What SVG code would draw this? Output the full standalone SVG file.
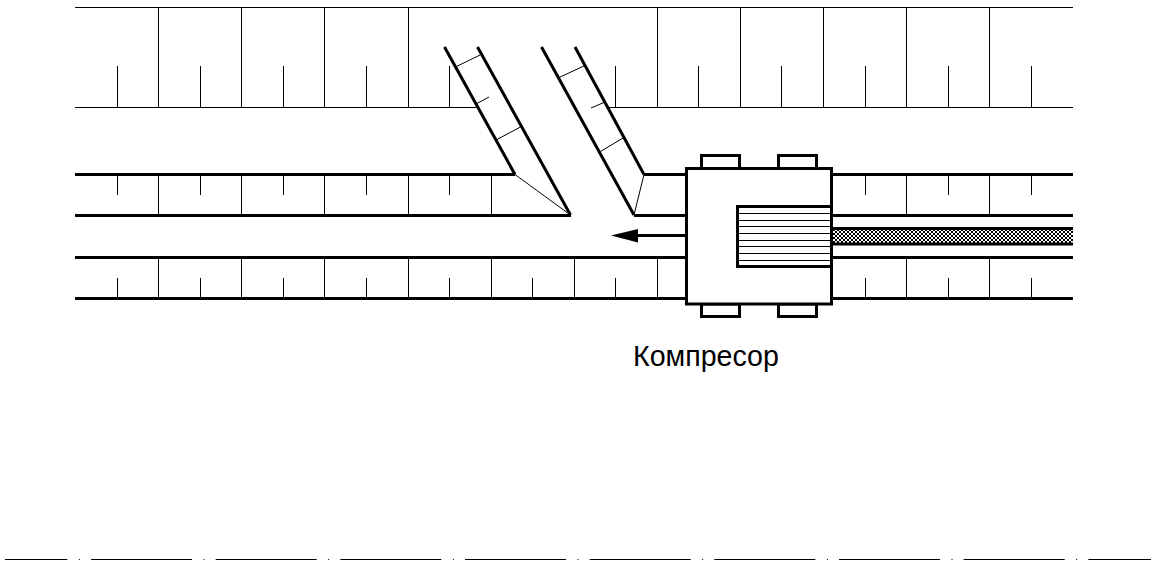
<svg xmlns="http://www.w3.org/2000/svg" width="1168" height="575" viewBox="0 0 1168 575">
<style>
.thick{stroke:#000;stroke-width:3;fill:none;stroke-linecap:butt}
.mid{stroke:#000;stroke-width:1;fill:none}
.thin{stroke:#000;stroke-width:1;fill:none}
.box{stroke:#000;stroke-width:3;fill:#fff}
text{font-family:"Liberation Sans",Arial,sans-serif;font-size:28.600px;fill:#000}
</style>
<defs>
<pattern id="hatch" width="4" height="4" patternUnits="userSpaceOnUse" x="833" y="229">
<rect width="4" height="4" fill="#fff"/>
<rect width="2" height="2" fill="#000"/>
<rect x="2" y="2" width="2" height="2" fill="#000"/>
</pattern>
</defs>
<rect width="1168" height="575" fill="#fff"/>
<g id="grid">
<path class="mid" d="M75 7.500H1073M75 107.500H476M607 107.500H1073"/>
<path class="mid" d="M158.500 7V107M241.500 7V107M324.500 7V107M408.500 7V107M657.500 7V107M740.500 7V107M823.500 7V107M906.500 7V107M989.500 7V107"/>
<path class="mid" d="M117.500 66V107M200.500 66V107M283.500 66V107M366.500 66V107M449.500 66V107M615.500 66V107M698.500 66V107M781.500 66V107M865.500 66V107M948.500 66V107M1031.500 66V107"/>
</g>
<g id="rows">
<path class="thick" d="M75 174.500H515M644 174.500H686M832 174.500H1073M75 215.500H571M634 215.500H686M832 215.500H1073M75 257.500H686M832 257.500H1073M75 298.500H686M832 298.500H1073"/>
<path class="thin" d="M158.500 174V215M241.500 174V215M324.500 174V215M408.500 174V215M491.500 174V215M906.500 174V215M989.500 174V215M117.500 174V195M200.500 174V195M283.500 174V195M366.500 174V195M449.500 174V195M865.500 174V195M948.500 174V195M1031.500 174V195"/>
<path class="thin" d="M158.500 257V298M241.500 257V298M324.500 257V298M408.500 257V298M491.500 257V298M574.500 257V298M657.500 257V298M906.500 257V298M989.500 257V298M117.500 278V298M200.500 278V298M283.500 278V298M366.500 278V298M449.500 278V298M532.500 278V298M615.500 278V298M865.500 278V298M948.500 278V298M1031.500 278V298"/>
</g>
<g id="chutes">
<path class="thick" d="M444.500 47L515 174.500M477.500 47L570.500 215M541.500 47L634 215M575 47L644 174.500"/>
<path class="thin" d="M515 174.500L570.500 215M644 174.500L634 215"/>
<path class="thin" d="M456.500 66.500L480 55M476 104L489 97M496 140L520.500 127M559 77.500L584 66M591 108L605 102M600.500 151.500L623 138"/>
</g>
<g id="band">
<rect x="833" y="229" width="240" height="15" fill="url(#hatch)"/>
<path class="thick" d="M832 228.500H1073M832 244H1073"/>
</g>
<g id="arrow">
<path class="thick" d="M686 235.500H630"/>
<path d="M611 235.500L638 229V242.500Z" fill="#000"/>
</g>
<g id="compressor">
<rect class="box" x="701.500" y="155.500" width="38" height="13"/>
<rect class="box" x="778.500" y="155.500" width="38" height="13"/>
<rect class="box" x="701.500" y="304" width="38" height="12.500"/>
<rect class="box" x="778.500" y="304" width="38" height="12.500"/>
<rect class="box" x="686.500" y="168.500" width="145" height="135.500"/>
<path class="thin" d="M738 213.500H831M738 220.500H831M738 226.500H831M738 233.500H831M738 240.500H831M738 246.500H831M738 253.500H831M738 260.500H831"/>
<path class="thick" d="M831 206.500H737.500V266.500H831"/>
</g>
<text x="633" y="366">Компресор</text>
<line x1="5" y1="559.500" x2="1151" y2="559.500" stroke="#000" stroke-width="1.200" stroke-dasharray="101 11.500 1 11.170" stroke-dashoffset="38.670"/>
</svg>
